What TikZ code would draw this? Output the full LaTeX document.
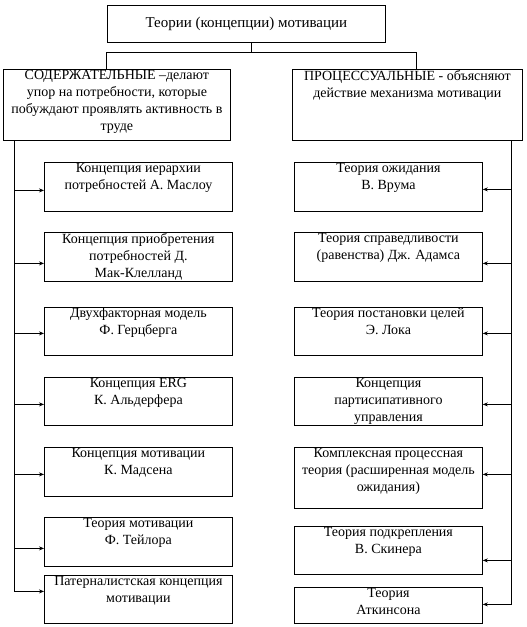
\documentclass[tikz,border=0pt]{standalone}
\usepackage{fontspec}
\setmainfont{Liberation Serif}
\usetikzlibrary{arrows.meta}
\begin{document}
\begin{tikzpicture}[x=1bp,y=-1bp,
  box/.style={draw=black, line width=0.8bp, anchor=north west, inner sep=0pt},
  txt/.style={font=\fontsize{14bp}{17bp}\selectfont, align=center, inner sep=1bp, anchor=north},
  line/.style={black, line width=0.8bp},
  arr/.style={black, line width=0.8bp, -{Stealth[length=5bp, width=4bp]}}]
\useasboundingbox (0,0) rectangle (527,627);
\node[box, font=\fontsize{15bp}{17bp}\selectfont, minimum width=278bp, minimum height=37bp] (top) at (107,5) {Теории (концепции) мотивации};
\node[box, minimum width=227bp, minimum height=71bp, label={[txt]north:{СОДЕРЖАТЕЛЬНЫЕ –делают\\упор на потребности, которые\\побуждают проявлять активность в\\труде}}] (cont) at (3,69) {};
\node[box, minimum width=230bp, minimum height=71bp, label={[txt]north:{ПРОЦЕССУАЛЬНЫЕ - объясняют\\действие механизма мотивации}}] (proc) at (292,69) {};
\draw[line] ([xshift=5bp]top.south) -- ++(0,10);
\draw[line] ([xshift=-10.5bp]cont.north) -- ++(0,-17) -| ([xshift=9bp]proc.north);
% content theories
\node[box, minimum width=188bp, minimum height=49bp, label={[txt]north:{Концепция иерархии\\потребностей А. Маслоу}}] (l1) at (44,162) {};
\node[box, minimum width=188bp, minimum height=49bp, label={[txt]north:{Концепция приобретения\\потребностей Д.\\Мак-Клелланд}}] (l2) at (44,232) {};
\node[box, minimum width=188bp, minimum height=48bp, label={[txt]north:{Двухфакторная модель\\Ф. Герцберга}}] (l3) at (44,307) {};
\node[box, minimum width=188bp, minimum height=48bp, label={[txt]north:{Концепция ERG\\К. Альдерфера}}] (l4) at (44,377) {};
\node[box, minimum width=188bp, minimum height=49bp, label={[txt]north:{Концепция мотивации\\К. Мадсена}}] (l5) at (44,447) {};
\node[box, minimum width=188bp, minimum height=49bp, label={[txt]north:{Теория мотивации\\Ф. Тейлора}}] (l6) at (44,517) {};
\node[box, minimum width=188bp, minimum height=48bp, label={[txt]north:{Патерналистская концепция\\мотивации}}] (l7) at (44,575) {};
% process theories
\node[box, minimum width=188bp, minimum height=49bp, label={[txt]north:{Теория ожидания\\В. Врума}}] (r1) at (294,162) {};
\node[box, minimum width=188bp, minimum height=49bp, label={[txt]north:{Теория справедливости\\(равенства) Дж. Адамса}}] (r2) at (294,232) {};
\node[box, minimum width=188bp, minimum height=48bp, label={[txt]north:{Теория постановки целей\\Э. Лока}}] (r3) at (294,307) {};
\node[box, minimum width=188bp, minimum height=48bp, label={[txt]north:{Концепция\\партисипативного\\управления}}] (r4) at (294,377) {};
\node[box, minimum width=188bp, minimum height=61bp, label={[txt]north:{Комплексная процессная\\теория (расширенная модель\\ожидания)}}] (r5) at (294,447) {};
\node[box, minimum width=188bp, minimum height=48bp, label={[txt]north:{Теория подкрепления\\В. Скинера}}] (r6) at (294,526) {};
\node[box, minimum width=188bp, minimum height=36bp, label={[txt]north:{Теория\\Аткинсона}}] (r7) at (294,587) {};
\draw[line] ([xshift=11bp]cont.south west) coordinate (lt) -- ([yshift=8bp]l7.west -| lt);
\draw[line] ([xshift=-11bp]proc.south east) coordinate (rt) -- ([yshift=1bp]r7.east -| rt);
\foreach \i/\s in {1/-3.5,2/-6.5,3/-2,4/-3,5/-2.5,6/-6.5,7/8}
  \draw[arr] ([yshift=\s*1bp]l\i.west -| lt) -- ([yshift=\s*1bp]l\i.west);
\foreach \i/\s in {1/-2.5,2/-6.5,3/-2,4/-3,5/3.5,6/-10,7/1}
  \draw[arr] ([yshift=\s*1bp]r\i.east -| rt) -- ([yshift=\s*1bp]r\i.east);
\end{tikzpicture}
\end{document}
